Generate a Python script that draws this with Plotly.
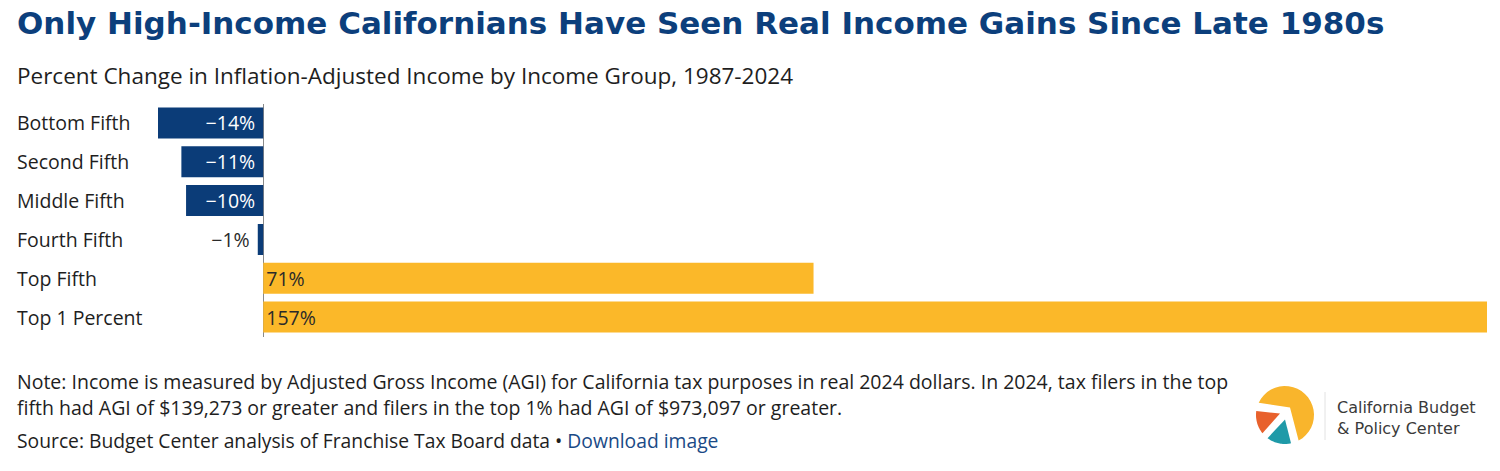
import math
import plotly.graph_objects as go

W, H = 1500, 471

# data
groups = ["Bottom Fifth", "Second Fifth", "Middle Fifth", "Fourth Fifth", "Top Fifth", "Top 1 Percent"]
pct_change = [-13.5, -10.5, -9.9, -0.7, 70.6, 157.0]
bar_labels = ["\u221214%", "\u221211%", "\u221210%", "\u22121%", "71%", "157%"]

NAVY = "#0b3c78"
GOLD = "#fbb829"
FONT = "Open Sans"


def px(x):
    return x / W


def py(y):
    return 1 - y / H


bar_colors = [NAVY if v < 0 else GOLD for v in pct_change]
text_pos = ["inside" if abs(v) > 3 else "outside" for v in pct_change]
inside_colors = ["white" if v < 0 else "#2a2a2a" for v in pct_change]
# a bit of breathing room between negative labels and the zero line
shown = [t + "\u00a0" if v < 0 else t for t, v in zip(bar_labels, pct_change)]

fig = go.Figure(go.Bar(
    x=pct_change,
    y=groups,
    orientation="h",
    marker=dict(color=bar_colors, line=dict(width=0)),
    text=shown,
    textposition=text_pos,
    insidetextanchor="start",
    insidetextfont=dict(family=FONT, size=19.5, color=inside_colors),
    outsidetextfont=dict(family=FONT, size=19.5, color="#2a2a2a"),
    constraintext="none",
    hoverinfo="skip",
))

fig.update_xaxes(
    domain=[px(158), px(1487)],
    range=[-13.5, 157],
    showgrid=False, showticklabels=False, ticks="",
    zeroline=True, zerolinecolor="#8a8a8a", zerolinewidth=1,
    fixedrange=True,
)
fig.update_yaxes(
    domain=[py(336.5), py(103.5)],
    autorange="reversed",
    showgrid=False, showticklabels=False, ticks="",
    fixedrange=True,
)

TXT = "#1e1e1e"
annotations = [
    dict(text="<b>Only High-Income Californians Have Seen Real Income Gains Since Late 1980s</b>",
         x=px(15), y=py(23), font=dict(family="DejaVu Sans", size=31, color="#0c3f7c")),
    dict(text="Percent Change in Inflation-Adjusted Income by Income Group, 1987-2024",
         x=px(15), y=py(76), font=dict(family=FONT, size=22.5, color=TXT)),
    dict(text="Note: Income is measured by Adjusted Gross Income (AGI) for California tax purposes in real 2024 dollars. In 2024, tax filers in the top",
         x=px(15), y=py(381), font=dict(family=FONT, size=19.5, color=TXT)),
    dict(text="fifth had AGI of $139,273 or greater and filers in the top 1% had AGI of $973,097 or greater.",
         x=px(15), y=py(407), font=dict(family=FONT, size=19.5, color=TXT)),
    dict(text="Source: Budget Center analysis of Franchise Tax Board data \u2022 <span style='color:#1a4a86'>Download image</span>",
         x=px(15), y=py(440), font=dict(family=FONT, size=19.3, color=TXT)),
    dict(text="California Budget", x=px(1335), y=py(407),
         font=dict(family="DejaVu Sans", size=16, color="#3a3a3a")),
    dict(text="&amp; Policy Center", x=px(1335), y=py(428),
         font=dict(family="DejaVu Sans", size=16, color="#3a3a3a")),
]
for a in annotations:
    a.update(xref="paper", yref="paper", xanchor="left", yanchor="middle", showarrow=False)

# category labels, left aligned
for g in groups:
    annotations.append(dict(text=g, x=px(15), xref="paper", y=g, yref="y",
                            xanchor="left", yanchor="middle", showarrow=False,
                            font=dict(family=FONT, size=19.5, color=TXT)))

# logo: circle split into three wedges with a white arrow
cx, cy, r = 1285, 415, 29


def arc(a0, a1, n=24):
    pts = []
    for i in range(n + 1):
        a = math.radians(a0 + (a1 - a0) * i / n)
        pts.append((cx + r * math.cos(a), cy + r * math.sin(a)))
    return pts


def path(pts):
    s = "M " + " L ".join(f"{px(x):.5f},{py(y):.5f}" for x, y in pts)
    return s + " Z"


logo = [
    (arc(-155, 62) + [(1290, 407.5)], "#f9b52c"),
    (arc(141, 188) + [(1280, 413.5)], "#e8612c"),
    (arc(78, 127) + [(1285, 419.5)], "#1f9aa8"),
]
shapes = [dict(type="path", path=path(p), xref="paper", yref="paper",
               fillcolor=c, line=dict(width=0)) for p, c in logo]
shapes.append(dict(type="line", xref="paper", yref="paper",
                   x0=px(1325), x1=px(1325), y0=py(392), y1=py(440),
                   line=dict(color="#e2e2e2", width=1)))

fig.update_layout(
    width=W, height=H,
    margin=dict(l=0, r=0, t=0, b=0),
    paper_bgcolor="white", plot_bgcolor="white",
    bargap=0.2,
    showlegend=False,
    annotations=annotations,
    shapes=shapes,
    font=dict(family=FONT),
)

# drop the browser's default body margin so the figure sits at the page corner
fig.write_html("out.html", config={"displayModeBar": False},
               post_script="document.body.style.margin='0';")
